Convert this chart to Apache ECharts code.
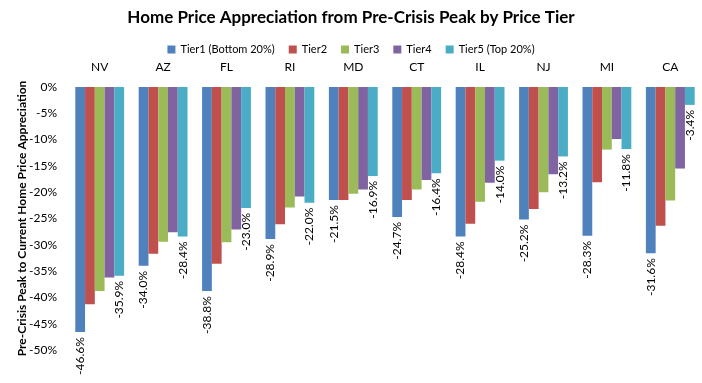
<!DOCTYPE html>
<html>
<head>
<meta charset="utf-8">
<script src="https://cdn.jsdelivr.net/npm/echarts@6/dist/echarts.min.js"></script>
<style>html,body{margin:0;padding:0;background:#fff}#c{width:702px;height:383px}</style>
</head>
<body>
<div id="c"></div>
<script>
const states = ["NV","AZ","FL","RI","MD","CT","IL","NJ","MI","CA"];
const tierNames = ["Tier1 (Bottom 20%)","Tier2","Tier3","Tier4","Tier5 (Top 20%)"];
const tier1 = [-46.6,-34.0,-38.8,-28.9,-21.5,-24.7,-28.4,-25.2,-28.3,-31.6];
const tier2 = [-41.3,-31.7,-33.6,-26.1,-21.5,-21.5,-26.0,-23.2,-18.1,-26.4];
const tier3 = [-38.8,-29.4,-29.5,-22.9,-20.3,-19.5,-21.8,-20.0,-11.9,-21.6];
const tier4 = [-36.2,-27.6,-27.1,-20.8,-19.5,-17.7,-18.2,-16.6,-9.9,-15.5];
const tier5 = [-35.9,-28.4,-23.0,-22.0,-16.9,-16.4,-14.0,-13.2,-11.8,-3.4];
const yTicks = [0,-5,-10,-15,-20,-25,-30,-35,-40,-45,-50];
const colors = ["#4F81BD","#C0504D","#9BBB59","#8064A2","#4BACC6"];
const labelled = [true,false,false,false,true];
const FONT = "Lato";

const chart = echarts.init(document.getElementById('c'), null, {renderer:'canvas'});
const allTiers = [tier1,tier2,tier3,tier4,tier5];
const series = allTiers.map((d,i)=>({
  name: tierNames[i],
  type: 'bar',
  data: d,
  barGap: '0%',
  barCategoryGap: '23%',
  itemStyle: {color: colors[i]},
  label: {
    show: labelled[i],
    position: 'bottom',
    rotate: 90,
    align: 'right',
    verticalAlign: 'middle',
    distance: 5,
    fontFamily: FONT,
    fontSize: 12,
    color: '#000',
    formatter: p => p.value.toFixed(1) + '%'
  }
}));
chart.setOption({
  animation: false,
  color: colors,
  title: {
    text: 'Home Price Appreciation from Pre-Crisis Peak by Price Tier',
    left: 'center', top: 4,
    textStyle: {fontFamily: FONT, fontWeight: 'bold', fontSize: 17, color: '#000'}
  },
  legend: {
    top: 39, left: 'center',
    itemWidth: 8, itemHeight: 8, itemGap: 14,
    icon: 'rect',
    textStyle: {fontFamily: FONT, fontSize: 11, color: '#000'}
  },
  grid: {left: 68, top: 87, width: 634, height: 263},
  xAxis: {
    type: 'category', data: states, position: 'top',
    axisLine: {show: false}, axisTick: {show: false},
    axisLabel: {fontFamily: FONT, fontSize: 12, color: '#000', margin: 14}
  },
  yAxis: {
    type: 'value', min: -50, max: 0, interval: 5,
    name: 'Pre-Crisis Peak to Current Home Price Appreciation',
    nameLocation: 'middle', nameGap: 40, nameMoveOverlap: false,
    nameTextStyle: {fontFamily: FONT, fontWeight: 'bold', fontSize: 12, color: '#000'},
    axisLine: {show: false}, axisTick: {show: false}, splitLine: {show: false},
    axisLabel: {fontFamily: FONT, fontSize: 12, color: '#000', margin: 11,
      formatter: v => yTicks.includes(v) ? v + '%' : ''}
  },
  series: series
});
</script>
</body>
</html>
